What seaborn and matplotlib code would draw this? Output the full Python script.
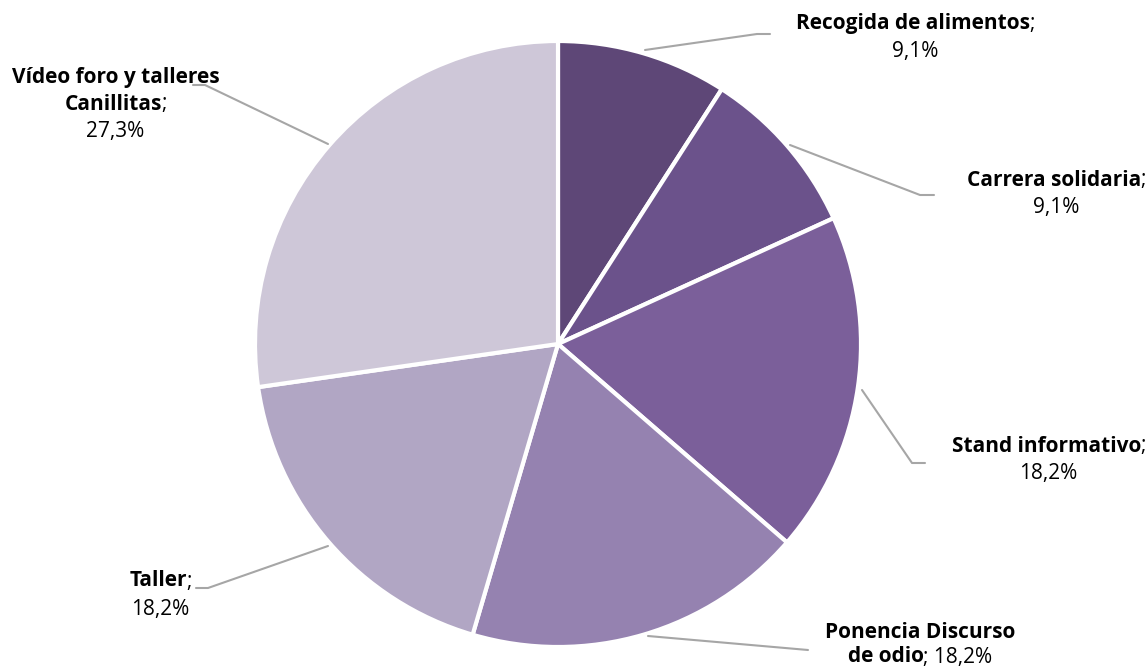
"""
Pie chart of activities (share of total), recreated with seaborn/matplotlib.
"""

import matplotlib
matplotlib.use("Agg")
import matplotlib.pyplot as plt
import seaborn as sns

sns.set_style("white")
plt.rcParams['font.family'] = ['Open Sans', 'DejaVu Sans']

# Data
activities = ['Recogida de alimentos', 'Carrera solidaria', 'Stand informativo',
              'Ponencia Discurso de odio', 'Taller', 'Vídeo foro y talleres Canillitas']
shares = [9.1, 9.1, 18.2, 18.2, 18.2, 27.3]
colors = ['#5E4777', '#6B528B', '#7B5F9A', '#9582B0', '#B1A6C4', '#CEC7D8']

# Label layout (pixel coords, y measured from top): lines of (bold, regular), text centre x,
# first line y, line spacing, leader-line points
label_layout = [
    ([('Recogida de alimentos', ';'), ('', '9,1%')], 915, 24, 28,
     [(645, 50), (757, 34), (770, 34)]),
    ([('Carrera solidaria', ';'), ('', '9,1%')], 1056, 180, 28,
     [(790, 145), (920, 195), (934, 195)]),
    ([('Stand informativo', ';'), ('', '18,2%')], 1048, 446, 28,
     [(862, 390), (912, 463), (925, 463)]),
    ([('Ponencia Discurso', ''), ('de odio', '; 18,2%')], 920, 632, 25,
     [(648, 636), (808, 650)]),
    ([('Taller', ';'), ('', '18,2%')], 160, 581, 28,
     [(328, 546), (208, 588), (196, 588)]),
    ([('Vídeo foro y talleres', ''), ('Canillitas', ';'), ('', '27,3%')], 115, 77, 27,
     [(328, 144), (205, 85), (193, 85)]),
]

W, H = 1147, 670
fig = plt.figure(figsize=(W / 100, H / 100), dpi=100)
ax = fig.add_axes([0, 0, 1, 1])

ax.pie(shares, colors=colors, startangle=90, counterclock=False,
       center=(558, H - 344), radius=303, frame=True,
       wedgeprops={'edgecolor': 'white', 'linewidth': 3})
ax.set_xlim(0, W)
ax.set_ylim(0, H)
ax.set_aspect('equal')
ax.axis('off')

renderer = fig.canvas.get_renderer()
FS = 15

for lines, cx, y0, line_h, pts in label_layout:
    xs = [p[0] for p in pts]
    ys = [H - p[1] for p in pts]
    ax.plot(xs, ys, color='#A6A6A6', linewidth=1.5, zorder=1)

    for i, (bold, regular) in enumerate(lines):
        y = H - (y0 + i * line_h)
        parts = []
        if bold:
            parts.append((bold, 'bold'))
        if regular:
            parts.append((regular, 'normal'))
        texts = [ax.text(0, y, s, fontsize=FS, fontweight=w, color='black',
                         ha='left', va='center') for s, w in parts]
        widths = [t.get_window_extent(renderer).width - 1 for t in texts]
        x = cx - sum(widths) / 2
        for t, w in zip(texts, widths):
            t.set_x(x)
            x += w

fig.savefig('out.png', dpi=100)
